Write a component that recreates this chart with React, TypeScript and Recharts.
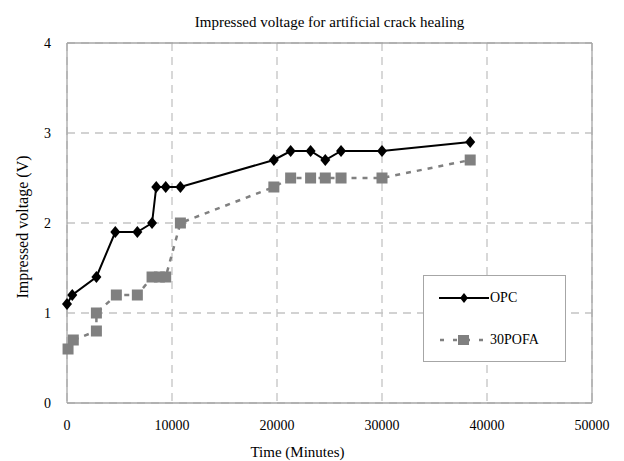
import React from 'react'
import { LineChart, Line, XAxis, YAxis, CartesianGrid, ReferenceLine } from 'recharts'

const xTicks = [0, 10000, 20000, 30000, 40000, 50000]
const yTicks = [0, 1, 2, 3, 4]

// OPC specimens
const opcTime = [0, 500, 2800, 4600, 6700, 8100, 8500, 9400, 10800, 19700, 21300, 23200, 24600, 26100, 30000, 38400]
const opcVoltage = [1.1, 1.2, 1.4, 1.9, 1.9, 2.0, 2.4, 2.4, 2.4, 2.7, 2.8, 2.8, 2.7, 2.8, 2.8, 2.9]

// 30% POFA specimens
const pofaTime = [100, 600, 2800, 2800, 4700, 6700, 8100, 8800, 9400, 10800, 19700, 21300, 23200, 24600, 26100, 30000, 38400]
const pofaVoltage = [0.6, 0.7, 0.8, 1.0, 1.2, 1.2, 1.4, 1.4, 1.4, 2.0, 2.4, 2.5, 2.5, 2.5, 2.5, 2.5, 2.7]

const seriesNames = ['OPC', '30POFA']

const opcData = opcTime.map((t, i) => ({ time: t, voltage: opcVoltage[i] }))
const pofaData = pofaTime.map((t, i) => ({ time: t, voltage: pofaVoltage[i] }))

const font = '"Liberation Serif", "Times New Roman", serif'
const gridColor = '#c4c4c4'
const borderColor = '#a6a6a6'

const DiamondDot = (props: any) => {
  const { cx, cy, index } = props
  if (cx == null || cy == null) return <g key={`d-${index}`} />
  return <polygon key={`d-${index}`} points={`${cx},${cy - 6} ${cx + 5},${cy} ${cx},${cy + 6} ${cx - 5},${cy}`} fill="#000" />
}

const SquareDot = (props: any) => {
  const { cx, cy, index } = props
  if (cx == null || cy == null) return <g key={`s-${index}`} />
  return <rect key={`s-${index}`} x={cx - 5.5} y={cy - 5.5} width={11} height={11} fill="#808080" />
}

const LegendBox = () => (
  <div style={{ position: 'absolute', left: 423, top: 275, width: 143, height: 87, border: `1px solid ${borderColor}`, background: '#fff', fontFamily: font, fontSize: 14, color: '#000', boxSizing: 'border-box' }}>
    <div style={{ display: 'flex', alignItems: 'center', marginTop: 14, marginLeft: 15 }}>
      <svg width={50} height={14}>
        <line x1={0} y1={7} x2={50} y2={7} stroke="#000" strokeWidth={2} />
        <polygon points="25,2 29,7 25,12 21,7" fill="#000" />
      </svg>
      <span style={{ marginLeft: 1 }}>{seriesNames[0]}</span>
    </div>
    <div style={{ display: 'flex', alignItems: 'center', marginTop: 26, marginLeft: 15 }}>
      <svg width={50} height={14}>
        <line x1={0} y1={7} x2={50} y2={7} stroke="#808080" strokeWidth={2.5} strokeDasharray="4 9" strokeDashoffset={-1} />
        <rect x={19} y={2} width={11} height={10} fill="#808080" />
      </svg>
      <span style={{ marginLeft: 1 }}>{seriesNames[1]}</span>
    </div>
  </div>
)

export default function App() {
  return (
    <div style={{ position: 'fixed', left: 0, top: 0, width: 624, height: 461, background: '#fff' }}>
      <div style={{ position: 'absolute', top: 14, left: 0, width: 659, textAlign: 'center', fontFamily: font, fontSize: 15, color: '#000' }}>
        Impressed voltage for artificial crack healing
      </div>
      <LineChart width={624} height={461} margin={{ top: 43, right: 32, bottom: 28, left: 20 }}>
        <CartesianGrid stroke={gridColor} strokeDasharray="8 6" strokeWidth={1.3} />
        <XAxis
          type="number"
          dataKey="time"
          domain={[0, 50000]}
          ticks={xTicks}
          height={30}
          axisLine={{ stroke: borderColor, strokeWidth: 1.3 }}
          tickLine={false}
          tickMargin={11}
          tick={{ fill: '#000', fontSize: 14, fontFamily: font }}
          label={{
            value: 'Time (Minutes)',
            content: (p: any) => {
              const vb = p.viewBox || {}
              const cx = vb.x + vb.width / 2 - 32
              return (
                <text x={cx} y={452} textAnchor="middle" dominantBaseline="central" fill="#000" fontSize={15} fontFamily={font}>
                  Time (Minutes)
                </text>
              )
            },
          }}
        />
        <YAxis
          type="number"
          domain={[0, 4]}
          ticks={yTicks}
          width={47}
          axisLine={{ stroke: borderColor, strokeWidth: 1.3 }}
          tickLine={false}
          tickMargin={10}
          tick={{ fill: '#000', fontSize: 14, fontFamily: font }}
          label={{
            value: 'Impressed voltage (V)',
            content: (p: any) => {
              const vb = p.viewBox || {}
              const cx = 22
              const cy = vb.y + vb.height / 2 + 4
              return (
                <text x={cx} y={cy} transform={`rotate(-90 ${cx} ${cy})`} textAnchor="middle" dominantBaseline="central" fill="#000" fontSize={16} fontFamily={font}>
                  Impressed voltage (V)
                </text>
              )
            },
          }}
        />
        <ReferenceLine y={4} stroke={borderColor} strokeWidth={1.3} />
        <ReferenceLine x={50000} stroke={borderColor} strokeWidth={1.3} />
        <Line
          data={pofaData}
          dataKey="voltage"
          name={seriesNames[1]}
          stroke="#808080"
          strokeWidth={2.5}
          strokeDasharray="5 6"
          dot={SquareDot}
          activeDot={false}
          isAnimationActive={false}
        />
        <Line
          data={opcData}
          dataKey="voltage"
          name={seriesNames[0]}
          stroke="#000"
          strokeWidth={2}
          dot={DiamondDot}
          activeDot={false}
          isAnimationActive={false}
        />
      </LineChart>
      <LegendBox />
    </div>
  )
}
